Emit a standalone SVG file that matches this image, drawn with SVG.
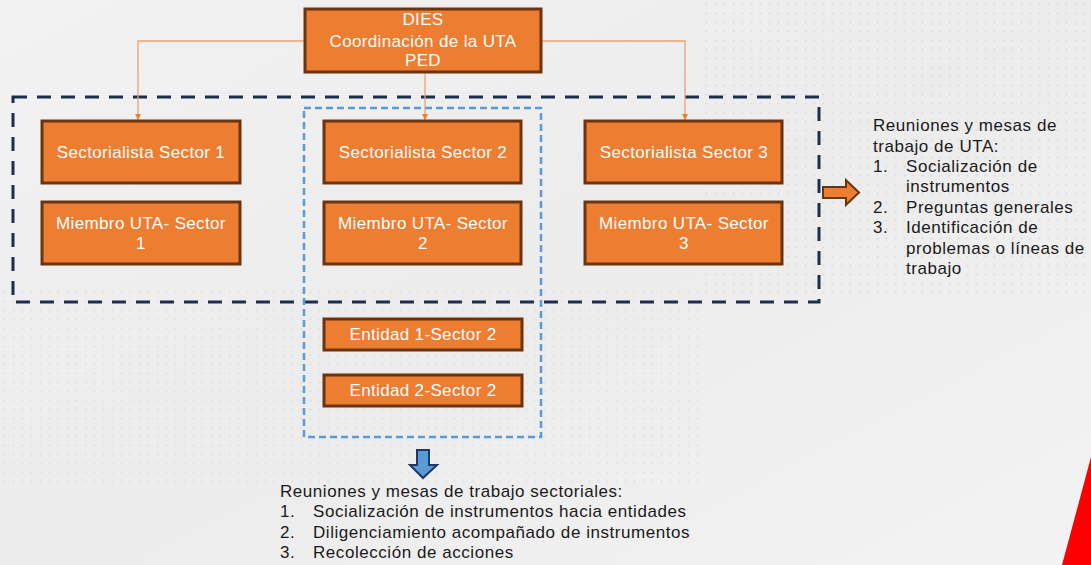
<svg xmlns="http://www.w3.org/2000/svg" width="1091" height="565" viewBox="0 0 1091 565">
<defs>
<style>
.box{fill:#ED7D31;stroke:#6A3410;stroke-width:3}
.bt{font-family:"Liberation Sans",Arial,sans-serif;font-size:17px;letter-spacing:0.35px;fill:#ffffff;text-anchor:middle}
.tx{font-family:"Liberation Sans",Arial,sans-serif;font-size:17px;letter-spacing:0.55px;fill:#1a1a1a}
.conn{fill:none;stroke:#F0A070;stroke-width:1.3}
</style>
<marker id="ah" viewBox="0 0 10 10" refX="10" refY="5" markerWidth="6" markerHeight="6" orient="auto" markerUnits="userSpaceOnUse">
<path d="M0,0 L10,5 L0,10 z" fill="#ED7D31"/>
</marker>
<linearGradient id="bg" x1="0" y1="0" x2="1" y2="1">
<stop offset="0" stop-color="#f2f2f2"/>
<stop offset="0.5" stop-color="#ececec"/>
<stop offset="1" stop-color="#f3f3f3"/>
</linearGradient>
<pattern id="dots" width="9" height="9" patternUnits="userSpaceOnUse">
<circle cx="4.5" cy="4.5" r="1.1" fill="#d6d6d6"/>
</pattern>
</defs>
<rect width="1091" height="565" fill="url(#bg)"/>
<rect x="700" y="0" width="391" height="300" fill="url(#dots)" opacity="0.75"/>
<rect x="0" y="290" width="700" height="200" fill="url(#dots)" opacity="0.6"/>
<polygon points="1091,457 1091,565 1062,565" fill="#ff0000"/>

<g id="groups">
<rect x="13" y="97" width="806" height="205" fill="none" stroke="#1B2E50" stroke-width="3" stroke-dasharray="14 10"/>
<rect x="304" y="108" width="237" height="329" fill="none" stroke="#5B9BD5" stroke-width="2.5" stroke-dasharray="7 4"/>
</g>

<g id="connectors">
<path class="conn" d="M305,41 H138 V120" marker-end="url(#ah)"/>
<path class="conn" d="M425,72 V120" marker-end="url(#ah)"/>
<path class="conn" d="M541,41 H685 V120" marker-end="url(#ah)"/>
</g>

<g id="dies">
<rect class="box" x="305" y="9" width="236" height="63"/>
<text class="bt" x="423" y="25">DIES</text>
<text class="bt" x="423" y="47">Coordinación de la UTA</text>
<text class="bt" x="423" y="66">PED</text>
</g>

<g id="sect1">
<rect class="box" x="42" y="121" width="198" height="62"/>
<text class="bt" x="141" y="158">Sectorialista Sector 1</text>
</g>
<g id="sect2">
<rect class="box" x="324" y="121" width="197" height="62"/>
<text class="bt" x="423" y="158">Sectorialista Sector 2</text>
</g>
<g id="sect3">
<rect class="box" x="585" y="121" width="197" height="62"/>
<text class="bt" x="684" y="158">Sectorialista Sector 3</text>
</g>

<g id="miem1">
<rect class="box" x="42" y="202" width="198" height="62"/>
<text class="bt" x="141" y="229">Miembro UTA- Sector</text>
<text class="bt" x="141" y="249">1</text>
</g>
<g id="miem2">
<rect class="box" x="324" y="202" width="197" height="62"/>
<text class="bt" x="423" y="229">Miembro UTA- Sector</text>
<text class="bt" x="423" y="249">2</text>
</g>
<g id="miem3">
<rect class="box" x="585" y="202" width="197" height="62"/>
<text class="bt" x="684" y="229">Miembro UTA- Sector</text>
<text class="bt" x="684" y="249">3</text>
</g>

<g id="ent1">
<rect class="box" x="324" y="319" width="198" height="31"/>
<text class="bt" x="423" y="340">Entidad 1-Sector 2</text>
</g>
<g id="ent2">
<rect class="box" x="324" y="375" width="198" height="31"/>
<text class="bt" x="423" y="396">Entidad 2-Sector 2</text>
</g>

<g id="arrowRight">
<polygon points="823,187 846,187 846,180 859,192.5 846,205 846,198 823,198" fill="#ED7D31" stroke="#6A3410" stroke-width="2"/>
</g>
<g id="arrowDown">
<polygon points="417,450 429,450 429,465 437,465 423,478 410,465 417,465" fill="#5B9BD5" stroke="#1F3864" stroke-width="2"/>
</g>

<g id="textRight">
<text class="tx" x="873" y="131">Reuniones y mesas de</text>
<text class="tx" x="873" y="152">trabajo de UTA:</text>
<text class="tx" x="873" y="172">1.</text><text class="tx" x="906" y="172">Socialización de</text>
<text class="tx" x="906" y="192">instrumentos</text>
<text class="tx" x="873" y="213">2.</text><text class="tx" x="906" y="213">Preguntas generales</text>
<text class="tx" x="873" y="233">3.</text><text class="tx" x="906" y="233">Identificación de</text>
<text class="tx" x="906" y="254">problemas o líneas de</text>
<text class="tx" x="906" y="274">trabajo</text>
</g>

<g id="textBottom">
<text class="tx" x="280" y="497">Reuniones y mesas de trabajo sectoriales:</text>
<text class="tx" x="280" y="517">1.</text><text class="tx" x="313" y="517">Socialización de instrumentos hacia entidades</text>
<text class="tx" x="280" y="538">2.</text><text class="tx" x="313" y="538">Diligenciamiento acompañado de instrumentos</text>
<text class="tx" x="280" y="558">3.</text><text class="tx" x="313" y="558">Recolección de acciones</text>
</g>
</svg>
